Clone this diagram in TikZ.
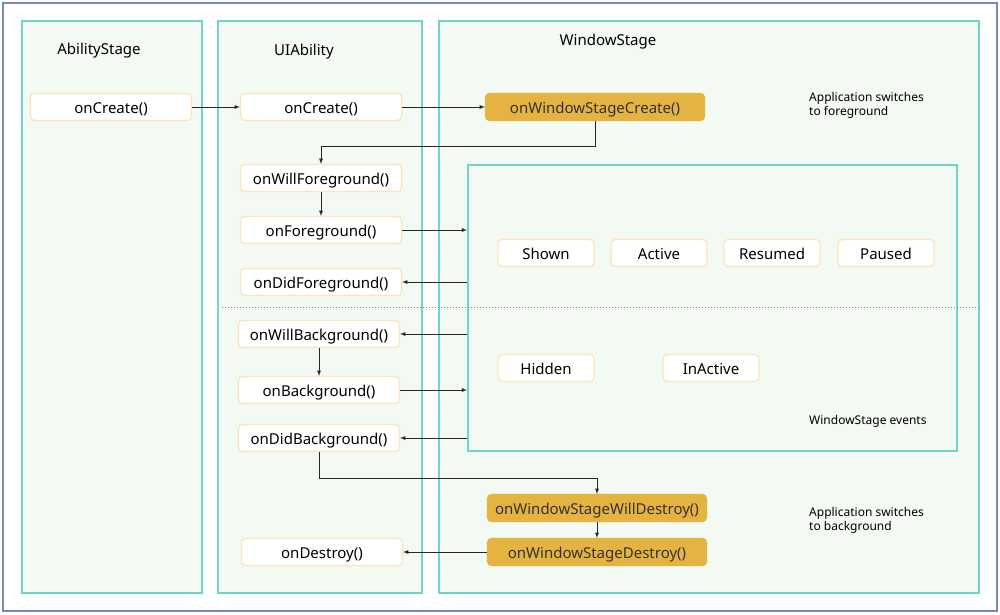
\documentclass[tikz,border=0pt]{standalone}
\usepackage{fontspec}
\setmainfont{Noto Sans}
\usetikzlibrary{positioning}
\definecolor{frameblue}{HTML}{7486C4}
\definecolor{panelline}{HTML}{6DD6C9}
\definecolor{panelfill}{HTML}{F3F9F3}
\definecolor{boxline}{HTML}{FCE5B5}
\definecolor{gold}{HTML}{E5B33F}
\tikzset{
  panel/.style={draw=panelline, line width=2pt, fill=panelfill},
  cb/.style={draw=boxline, line width=1.2pt, fill=white, rounded corners=4pt,
    minimum width=161pt, minimum height=27pt, inner sep=0pt,
    text height=13pt, text depth=0pt, font=\fontsize{15}{18}\selectfont},
  wsbox/.style={cb, draw=gold, fill=gold, minimum width=219pt, text=black!80},
  evbox/.style={cb, minimum width=96pt},
  title/.style={font=\fontsize{15}{18}\selectfont},
  note/.style={font=\fontsize{12}{14.5}\selectfont, align=left, anchor=north west, inner sep=0pt},
  flow/.style={->, >=latex, line width=0.8pt, draw=black!85}
}
\begin{document}
\begin{tikzpicture}[x=1pt,y=-1pt]
    \useasboundingbox (0,0) rectangle (1000,614);
    % frame and panels
    \draw[frameblue, line width=1.5pt] (3,3) rectangle (997,611);
    \draw[panel] (22,21) rectangle (202,593);
    \draw[panel] (218,21) rectangle (422,593);
    \draw[panel] (439,21) rectangle (979,593);
    \node[panel, minimum width=489pt, minimum height=286pt, inner sep=0pt, anchor=north west] (events) at (467,164) {};
    \draw[gray, dotted, line width=1pt] (222,307) -- (979,307);
    % titles
    \node[title] (astitle) at (99,51) {AbilityStage};
    \node[title] (uititle) at (304,52) {UIAbility};
    \node[title] (wstitle) at (608,42) {WindowStage};
    % AbilityStage, UIAbility
    \node[cb] (ascreate) at (111,107) {onCreate()};
    \node[cb] (uicreate) at (321,107) {onCreate()};
    \node[cb] (willfg) at (321,178) {onWillForeground()};
    \node[cb] (fg) at (321,230) {onForeground()};
    \node[cb] (didfg) at (321,282) {onDidForeground()};
    \node[cb] (willbg) at (319,334) {onWillBackground()};
    \node[cb] (bg) at (319,390) {onBackground()};
    \node[cb] (didbg) at (319,438) {onDidBackground()};
    \node[cb] (destroy) at (322,552) {onDestroy()};
    % WindowStage
    \node[wsbox] (wscreate) at (595,107) {onWindowStageCreate()};
    \node[wsbox] (wswilldestroy) at (597,508) {onWindowStageWillDestroy()};
    \node[wsbox] (wsdestroy) at (597,552) {onWindowStageDestroy()};
    \node[evbox] (shown) at (546,253) {Shown};
    \node[evbox, right=15.8pt of shown] (active) {Active};
    \node[evbox, right=15.8pt of active] (resumed) {Resumed};
    \node[evbox, right=16.8pt of resumed] (paused) {Paused};
    \node[evbox] (hidden) at (546,368) {Hidden};
    \node[evbox] (inactive) at (711,368) {InActive};
    % notes
    \node[note] (fgnote) at (809,92) {Application switches\\to foreground};
    \node[note] (evnote) at (809,415) {WindowStage events};
    \node[note] (bgnote) at (809,507) {Application switches\\to background};
    % flow
    \draw[flow] (ascreate) -- (uicreate);
    \draw[flow] (uicreate) -- (wscreate);
    \draw[flow] (wscreate.south) -- ++(0,25) -| (willfg.north);
    \draw[flow] (willfg) -- (fg);
    \draw[flow] (fg.east) -- (fg.east -| events.west);
    \draw[flow] (didfg.east -| events.west) -- (didfg.east);
    \draw[flow] (willbg.east -| events.west) -- (willbg.east);
    \draw[flow] (willbg) -- (bg);
    \draw[flow] (bg.east) -- (bg.east -| events.west);
    \draw[flow] (didbg.east -| events.west) -- (didbg.east);
    \draw[flow] (didbg.south) -- ++(0,26) -| (wswilldestroy.north);
    \draw[flow] (wswilldestroy) -- (wsdestroy);
    \draw[flow] (wsdestroy) -- (destroy);
\end{tikzpicture}
\end{document}
